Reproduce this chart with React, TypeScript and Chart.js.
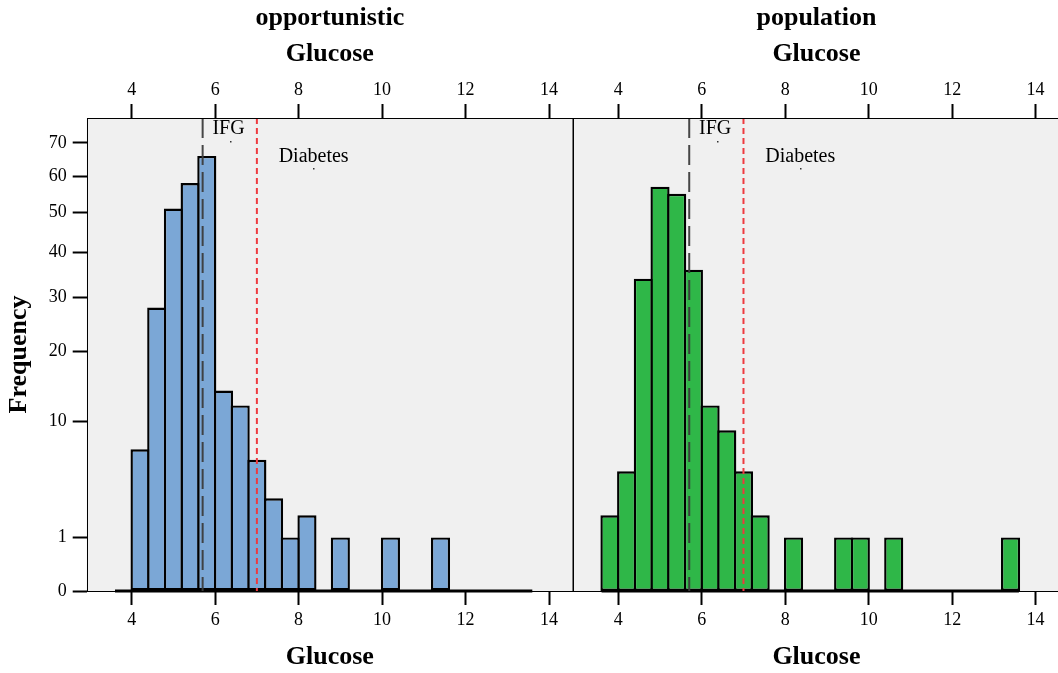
import React, { useEffect, useRef } from 'react';
import { Chart, registerables, LinearScale } from 'chart.js';

Chart.register(...registerables);

// ---- data ----
const BIN_LOWER = [3.6, 4.0, 4.4, 4.8, 5.2, 5.6, 6.0, 6.4, 6.8, 7.2, 7.6, 8.0, 8.4, 8.8, 9.2, 9.6, 10.0, 10.4, 10.8, 11.2, 11.6, 12.0, 12.4, 12.8, 13.2];
const BIN_WIDTH = 0.4;
const OPPORTUNISTIC_COUNTS = [0, 7, 28, 51, 58, 66, 14, 12, 6, 3, 1, 2, 0, 1, 0, 0, 1, 0, 0, 1, 0, 0, 0, 0, 0];
const POPULATION_COUNTS = [2, 5, 34, 57, 55, 36, 12, 9, 5, 2, 0, 1, 0, 0, 1, 1, 0, 1, 0, 0, 0, 0, 0, 0, 1];
const PANEL_TITLES = ['opportunistic', 'population'];
const X_TITLE = 'Glucose';
const Y_TITLE = 'Frequency';
const X_TICKS = [4, 6, 8, 10, 12, 14];
const Y_TICKS = [0, 1, 10, 20, 30, 40, 50, 60, 70];
const X_MIN = 2.922;
const X_MAX = 14.575;
const Y_MAX = 78;
const IFG = 5.7;
const DIABETES = 7.0;
const LABEL_NAMES = ['IFG', 'Diabetes'];
const LABEL_X = [6.32, 8.36];
const LABEL_Y = [74.6, 65.6];
const DOT_X = [6.36, 8.345];
const DOT_Y = [70.5, 62.3];

const FONT = '"Liberation Serif", "Times New Roman", serif';

// square-root count axis
class SqrtScale extends LinearScale {
  static id = 'sqrt';
  static defaults = { ticks: { callback: (v: number) => String(v) } };
  buildTicks() {
    return Y_TICKS.filter((v) => v >= this.min && v <= this.max).map((v) => ({ value: v }));
  }
  getPixelForValue(value: number) {
    const lo = Math.sqrt(Math.max(this.min, 0));
    const hi = Math.sqrt(this.max);
    const v = Math.sqrt(Math.max(value ?? 0, 0));
    return this.getPixelForDecimal((v - lo) / (hi - lo));
  }
  getValueForPixel(pixel: number) {
    const lo = Math.sqrt(Math.max(this.min, 0));
    const hi = Math.sqrt(this.max);
    const s = lo + this.getDecimalForPixel(pixel) * (hi - lo);
    return s * s;
  }
}
Chart.register(SqrtScale as any);

const panelPlugin = {
  id: 'panelDecor',
  beforeDraw(chart: any) {
    const { ctx, chartArea: a } = chart;
    ctx.save();
    ctx.fillStyle = '#f0f0f0';
    ctx.fillRect(a.left, a.top, a.right - a.left, a.bottom - a.top);
    ctx.restore();
  },
  afterDraw(chart: any) {
    const { ctx, chartArea: a, scales } = chart;
    ctx.save();
    ctx.strokeStyle = '#000';
    ctx.lineWidth = 1;
    ctx.strokeRect(Math.round(a.left) + 0.5, Math.round(a.top) + 0.5, Math.round(a.right - a.left) - 1 + 0.5, Math.round(a.bottom - a.top));
    ctx.fillStyle = '#000';
    ctx.font = '20px ' + FONT;
    ctx.textAlign = 'center';
    ctx.textBaseline = 'middle';
    LABEL_NAMES.forEach((t, i) => {
      ctx.fillText(t, scales.x.getPixelForValue(LABEL_X[i]), scales.y.getPixelForValue(LABEL_Y[i]));
    });
    ctx.fillStyle = '#333';
    DOT_X.forEach((dx, i) => {
      ctx.fillRect(Math.round(scales.x.getPixelForValue(dx)), Math.round(scales.y.getPixelForValue(DOT_Y[i])), 1.5, 1.5);
    });
    ctx.restore();
  },
};

const tickFont = { family: FONT, size: 18 };
const titleFont = { family: FONT, size: 26, weight: 'bold' as const };

function makeConfig(counts: number[], color: string, title: string, showY: boolean, padLeft: number, padRight: number) {
  const bars = BIN_LOWER.map((lo, i) => ({ x: lo + BIN_WIDTH / 2, y: counts[i] }));
  const lastEdge = BIN_LOWER[BIN_LOWER.length - 1] + BIN_WIDTH;
  const gridCfg = {
    display: true,
    drawOnChartArea: false,
    drawTicks: true,
    tickLength: 14,
    tickWidth: 2,
    tickColor: '#000',
    offset: false,
  };
  return {
    type: 'bar' as const,
    data: {
      datasets: [
        {
          type: 'bar' as const,
          data: bars,
          xAxisID: 'x',
          yAxisID: 'y',
          backgroundColor: color,
          borderColor: '#000',
          borderWidth: 2.4,
          borderSkipped: false,
          barPercentage: 1.145,
          categoryPercentage: 1,
          inflateAmount: 0,
          order: 3,
        },
        {
          type: 'line' as const,
          data: [{ x: BIN_LOWER[0], y: 0 }, { x: lastEdge, y: 0 }],
          xAxisID: 'x',
          yAxisID: 'y',
          borderColor: '#000',
          borderWidth: 2.8,
          pointRadius: 0,
          clip: false,
          order: 2,
        },
        {
          type: 'line' as const,
          data: [{ x: IFG, y: Y_MAX }, { x: IFG, y: 0 }],
          xAxisID: 'x',
          yAxisID: 'y',
          borderColor: 'rgba(60,60,60,0.95)',
          borderWidth: 2,
          borderDash: [20, 7],
          pointRadius: 0,
          order: 1,
        },
        {
          type: 'line' as const,
          data: [{ x: DIABETES, y: Y_MAX }, { x: DIABETES, y: 0 }],
          xAxisID: 'x',
          yAxisID: 'y',
          borderColor: '#ee3a3f',
          borderWidth: 2,
          borderDash: [6, 4],
          pointRadius: 0,
          order: 1,
        },
      ],
    },
    options: {
      responsive: false,
      animation: false as const,
      devicePixelRatio: 1,
      layout: { padding: { left: padLeft, right: padRight, top: 0, bottom: 0 } },
      plugins: { legend: { display: false }, tooltip: { enabled: false }, title: { display: false } },
      scales: {
        x: {
          type: 'linear' as const,
          position: 'bottom' as const,
          min: X_MIN,
          max: X_MAX,
          offset: false,
          afterBuildTicks: (s: any) => { s.ticks = X_TICKS.map((v) => ({ value: v })); },
          afterFit: (s: any) => { s.height = 82; },
          ticks: { font: tickFont, color: '#000', padding: 4, maxRotation: 0, autoSkip: false, callback: (v: any) => String(v) },
          grid: gridCfg,
          border: { display: false },
          title: { display: true, text: X_TITLE, font: titleFont, color: '#000', padding: { top: 0, bottom: 0 } },
        },
        x2: {
          type: 'linear' as const,
          axis: 'x' as const,
          position: 'top' as const,
          min: X_MIN,
          max: X_MAX,
          offset: false,
          afterBuildTicks: (s: any) => { s.ticks = X_TICKS.map((v) => ({ value: v })); },
          afterFit: (s: any) => { s.height = 118; },
          ticks: { font: tickFont, color: '#000', padding: 3, maxRotation: 0, autoSkip: false, callback: (v: any) => String(v) },
          grid: gridCfg,
          border: { display: false },
          title: {
            display: true,
            text: [title, X_TITLE],
            font: { ...titleFont, lineHeight: 36 / 26 },
            color: '#000',
            padding: { top: 0, bottom: 0 },
          },
        },
        y: {
          type: 'sqrt' as any,
          position: 'left' as const,
          display: showY,
          min: 0,
          max: Y_MAX,
          afterFit: (s: any) => { s.width = showY ? 86.7 : 0; },
          ticks: { font: tickFont, color: '#000', padding: 6, autoSkip: false },
          grid: gridCfg,
          border: { display: false },
          title: { display: true, text: Y_TITLE, font: titleFont, color: '#000', padding: { top: 3.4, bottom: 0 } },
        },
      },
    },
    plugins: [panelPlugin],
  };
}

function Panel(props: { left: number; width: number; padLeft: number; padRight: number; counts: number[]; color: string; title: string; showY: boolean }) {
  const ref = useRef<HTMLCanvasElement | null>(null);
  useEffect(() => {
    if (!ref.current) return;
    const chart = new Chart(ref.current, makeConfig(props.counts, props.color, props.title, props.showY, props.padLeft, props.padRight) as any);
    return () => chart.destroy();
  }, []);
  return (
    <canvas
      ref={ref}
      width={props.width}
      height={673}
      style={{ position: 'absolute', left: props.left, top: 0, width: props.width, height: 673, display: 'block' }}
    />
  );
}

export default function App() {
  return (
    <div style={{ position: 'fixed', left: 0, top: 0, width: 1058, height: 673, overflow: 'hidden', background: '#fff' }}>
      <Panel left={0} width={574} padLeft={0} padRight={1} counts={OPPORTUNISTIC_COUNTS} color="#7ba7d6" title={PANEL_TITLES[0]} showY={true} />
      <Panel left={573} width={490} padLeft={0.3} padRight={3.4} counts={POPULATION_COUNTS} color="#2fb748" title={PANEL_TITLES[1]} showY={false} />
    </div>
  );
}
